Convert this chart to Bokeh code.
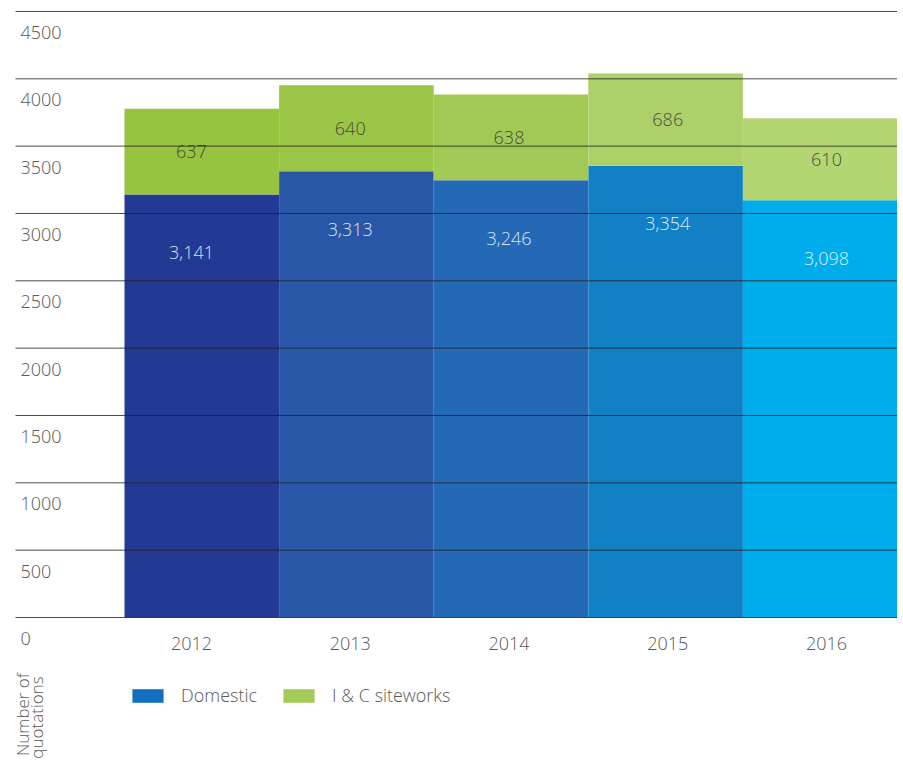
import math
from bokeh.plotting import figure
from bokeh.models import Range1d, ColumnDataSource, Legend, LegendItem
from bokeh.core.properties import value
from bokeh.embed import file_html
from bokeh.resources import INLINE

# ---- data ----
years = ["2012", "2013", "2014", "2015", "2016"]
domestic = [3141, 3313, 3246, 3354, 3098]
ic_siteworks = [637, 640, 638, 686, 610]
y_ticks = [0, 500, 1000, 1500, 2000, 2500, 3000, 3500, 4000, 4500]
y_tick_labels = ["0", "500", "1000", "1500", "2000", "2500", "3000", "3500", "4000", "4500"]

# ---- styles ----
dom_colors = ["#233a95", "#2857a8", "#2469b5", "#1280c4", "#00adec"]
ic_colors = ["#96c340", "#9bc546", "#a2c955", "#add068", "#b3d572"]
FONT_NAME = "Open Sans Light"
FONT = value(FONT_NAME)
GREY = "#5a5a5a"

W, H = 897, 765
BAR_LEFT_PX, BAR_PX = 124, 154.6
ZERO_PX, PX_PER_UNIT = 617, 0.13467
x_lo = 0.5 - BAR_LEFT_PX / BAR_PX
x_hi = 0.5 + (W - BAR_LEFT_PX) / BAR_PX
y_hi = ZERO_PX / PX_PER_UNIT
y_lo = -(H - ZERO_PX) / PX_PER_UNIT
# labels are laid out on a slightly wider category spacing than the bars
LBL_FIRST_PX, LBL_PX = 191, 158.75
lx_lo = 1 - LBL_FIRST_PX / LBL_PX
lx_hi = lx_lo + W / LBL_PX

p = figure(width=W, height=H, output_backend="svg", toolbar_location=None,
           x_axis_location=None, y_axis_location=None, min_border=0,
           x_range=Range1d(x_lo, x_hi), y_range=Range1d(y_lo, y_hi))
p.extra_x_ranges = {"lbl": Range1d(lx_lo, lx_hi)}
p.outline_line_color = None
p.grid.visible = False

xs = list(range(1, len(years) + 1))
tops = [d + c for d, c in zip(domestic, ic_siteworks)]
src = ColumnDataSource(dict(
    x=xs, year=years, dom=domestic, ic=ic_siteworks, top=tops,
    icmid=[d + c / 2 for d, c in zip(domestic, ic_siteworks)],
    dom_lbl=[f"{v:,}" for v in domestic], ic_lbl=[f"{v:,}" for v in ic_siteworks],
    dcol=dom_colors, gcol=ic_colors, zero=[0] * len(years)))

p.vbar(x="x", bottom="zero", top="dom", width=1.0, fill_color="dcol", line_color=None, source=src)
p.vbar(x="x", bottom="dom", top="top", width=1.0, fill_color="gcol", line_color=None, source=src)

# gridlines above bars
grid_left = 0.5 - (BAR_LEFT_PX - 15) / BAR_PX
p.segment(x0=[grid_left] * len(y_ticks), y0=y_ticks, x1=[5.5] * len(y_ticks), y1=y_ticks,
          line_color="#222222", line_width=1, line_alpha=0.8)

# y tick labels (sit below their gridline)
p.text(x=[grid_left] * len(y_ticks), y=y_ticks, text=y_tick_labels, x_offset=5, y_offset=21,
       text_font=FONT, text_font_size="18px", text_color=GREY,
       text_align="left", text_baseline="middle")

# year labels
p.text(x="x", y="zero", text="year", y_offset=26, source=src, x_range_name="lbl",
       text_font=FONT, text_font_size="18px", text_color=GREY,
       text_align="center", text_baseline="middle")

# value labels
p.text(x="x", y="icmid", text="ic_lbl", source=src, x_range_name="lbl",
       text_font=FONT, text_font_size="18px",
       text_color="#333333", text_alpha=0.85, text_align="center", text_baseline="middle")
p.text(x="x", y="dom", text="dom_lbl", source=src, y_offset=58, x_range_name="lbl",
       text_font=FONT, text_font_size="18px",
       text_color="#ffffff", text_alpha=0.85, text_align="center", text_baseline="middle")

# y axis title (rotated, two lines)
p.text(x=[grid_left, grid_left], y=[y_ticks[0], y_ticks[0]], text=["Number of", "quotations"],
       x_offset=[7, 21], y_offset=[97, 100], angle=math.pi / 2,
       text_font=FONT, text_font_size="17px", text_color=GREY,
       text_align="center", text_baseline="middle")

# legend
r1 = p.vbar(x=[0], bottom=[0], top=[0], width=0, fill_color="#1270c0", line_color=None)
r2 = p.vbar(x=[0], bottom=[0], top=[0], width=0, fill_color="#a4cb58", line_color=None)
legend = Legend(items=[LegendItem(label="Domestic", renderers=[r1]),
                       LegendItem(label="I & C siteworks", renderers=[r2])],
                orientation="horizontal", location=(128, 58),
                glyph_width=39, glyph_height=17, label_standoff=14, spacing=22,
                padding=0, margin=0, border_line_color=None, background_fill_alpha=0,
                label_text_font=FONT_NAME, label_text_font_size="18px", label_text_color=GREY,
                label_height=17)
p.add_layout(legend, "center")

open("out.html", "w").write(file_html(p, INLINE))
